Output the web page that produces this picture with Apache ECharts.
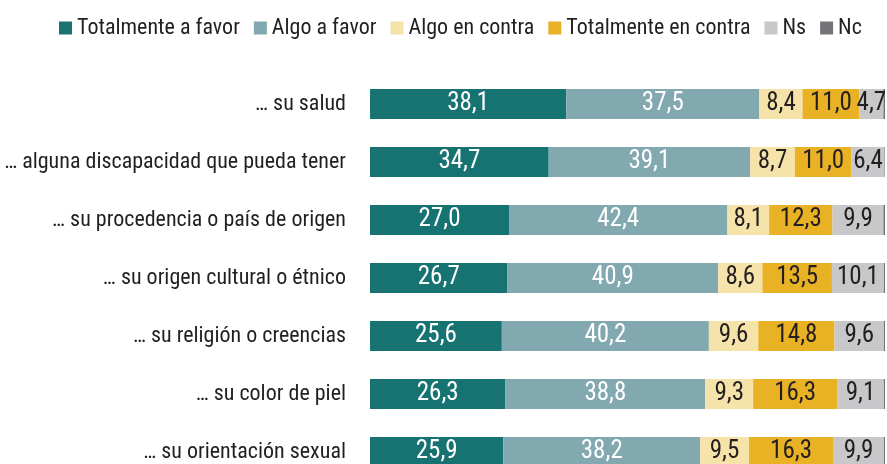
<!DOCTYPE html>
<html>
<head>
<meta charset="utf-8">
<script src="https://cdn.jsdelivr.net/npm/echarts@6/dist/echarts.min.js"></script>
<style>
  html, body { margin: 0; padding: 0; background: #fff; }
  #chart { width: 887px; height: 464px; }
</style>
</head>
<body>
<div id="chart"></div>
<script>
// datos
const categories = [
  '… su salud',
  '… alguna discapacidad que pueda tener',
  '… su procedencia o país de origen',
  '… su origen cultural o étnico',
  '… su religión o creencias',
  '… su color de piel',
  '… su orientación sexual',
];
const totalmenteFavor = [38.1, 34.7, 27.0, 26.7, 25.6, 26.3, 25.9];
const algoFavor = [37.5, 39.1, 42.4, 40.9, 40.2, 38.8, 38.2];
const algoContra = [8.4, 8.7, 8.1, 8.6, 9.6, 9.3, 9.5];
const totalmenteContra = [11.0, 11.0, 12.3, 13.5, 14.8, 16.3, 16.3];
const ns = [4.7, 6.4, 9.9, 10.1, 9.6, 9.1, 9.9];
const nc = [0.3, 0.1, 0.3, 0.2, 0.2, 0.2, 0.2];

const FONT = "'Roboto Condensed', 'Liberation Sans Narrow', 'DejaVu Sans Condensed', Roboto, sans-serif";
const fmt = (v) => v.toFixed(1).replace('.', ',');

const makeSeries = (name, data, color, labelColor, showLabel) => ({
  name,
  type: 'bar',
  stack: 'total',
  barWidth: 30,
  data,
  itemStyle: { color },
  label: {
    show: showLabel,
    position: 'inside',
    color: labelColor,
    fontFamily: FONT,
    fontSize: 25,
    formatter: (p) => fmt(p.value),
  },
});

const chart = echarts.init(document.getElementById('chart'));
chart.setOption({
  animation: false,
  textStyle: { fontFamily: FONT },
  legend: {
    top: 12,
    left: 54,
    width: 880,
    itemWidth: 13,
    itemHeight: 13,
    itemGap: 14,
    icon: 'rect',
    textStyle: { fontFamily: FONT, fontSize: 22, color: '#231f20' },
  },
  grid: {
    left: 370,
    right: 2,
    top: 75,
    bottom: -17,
    outerBoundsMode: 'none',
  },
  xAxis: {
    type: 'value',
    min: 0,
    max: 100,
    show: false,
  },
  yAxis: {
    type: 'category',
    data: categories,
    inverse: true,
    axisLine: { show: false },
    axisTick: { show: false },
    axisLabel: {
      margin: 24,
      fontFamily: FONT,
      fontSize: 22,
      color: '#231f20',
    },
  },
  series: [
    makeSeries('Totalmente a favor', totalmenteFavor, '#177272', '#ffffff', true),
    makeSeries('Algo a favor', algoFavor, '#82a8b0', '#ffffff', true),
    makeSeries('Algo en contra', algoContra, '#f5e3aa', '#231f20', true),
    makeSeries('Totalmente en contra', totalmenteContra, '#e9b124', '#231f20', true),
    makeSeries('Ns', ns, '#c8c8ca', '#231f20', true),
    makeSeries('Nc', nc, '#747478', '#231f20', false),
  ],
});
</script>
</body>
</html>
